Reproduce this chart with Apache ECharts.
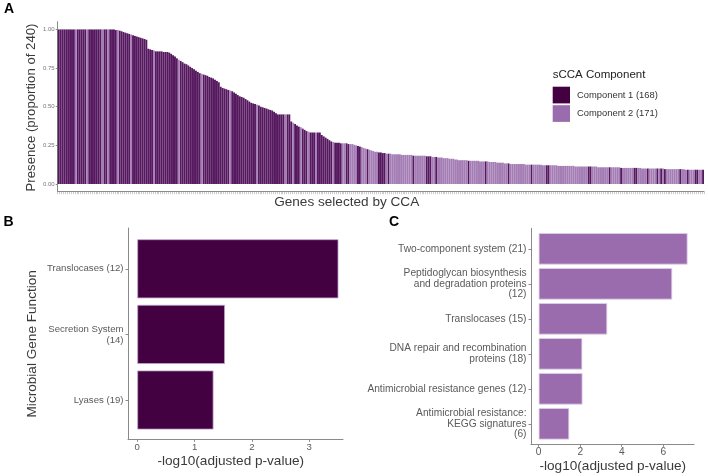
<!DOCTYPE html>
<html><head><meta charset="utf-8">
<script src="https://cdn.jsdelivr.net/npm/echarts@6/dist/echarts.min.js"></script>
<style>html,body{margin:0;padding:0;background:#fff}#c{width:708px;height:476px}</style>
</head><body><div id="c"></div>
<script>
// ---- Panel A: presence of each CCA-selected gene (proportion of 240), sorted ----
const presence = [
  1,1,1,1,1,1,1,1,1,1,
  1,1,1,1,1,1,1,1,1,1,
  1,1,1,1,1,1,1,1,1,1,
  0.996,0.996,0.992,0.988,0.983,
  0.979,0.975,0.971,0.967,0.963,
  0.958,0.954,0.950,0.946,0.942,0.938,0.933,
  0.875,0.871,0.867,0.863,0.858,0.858,0.858,0.858,0.854,0.854,0.854,0.850,
  0.842,0.833,0.825,0.813,0.804,0.796,
  0.788,0.779,0.775,0.767,0.758,0.750,0.742,0.733,
  0.725,0.717,0.713,0.708,0.704,0.700,0.692,0.688,0.683,
  0.675,0.667,0.658,0.629,0.621,
  0.617,0.613,0.608,0.604,0.600,0.592,
  0.583,0.575,0.567,0.563,0.558,
  0.550,0.542,0.533,0.525,0.521,
  0.517,0.513,0.508,0.500,0.496,0.492,
  0.488,0.483,0.479,0.475,0.467,0.458,
  0.450,0.450,0.450,0.450,0.450,0.450,0.450,
  0.404,0.396,0.388,0.379,0.371,0.367,
  0.358,0.350,0.342,0.338,
  0.333,0.333,0.333,0.333,0.333,0.333,
  0.317,0.308,0.300,0.292,0.283,0.275,0.271,
  0.267,0.267,0.267,0.263,0.263,0.263,0.263,0.258,0.258,0.258,0.254,
  0.250,0.246,0.242,0.238,0.233,0.229,0.225,0.221,0.217,0.213,
  0.208,0.208,0.204,0.204,0.200,0.200,0.196,0.196,0.196,
  0.192,0.192,0.192,0.192,0.192,0.188,0.188,0.188,0.188,0.188,0.188,
  0.183,0.183,0.183,0.183,0.183,0.183,0.183,
  0.179,0.179,0.179,0.175,0.175,0.175,0.171,0.171,0.171,
  0.167,0.167,0.167,0.163,0.163,0.163,0.158,0.158,
  0.154,0.154,0.154,0.154,0.154,0.150,0.150,0.150,0.150,0.150,0.150,
  0.146,0.146,0.146,0.146,0.146,0.142,0.142,0.142,0.142,
  0.138,0.138,0.138,0.138,0.133,0.133,0.133,
  0.129,0.129,0.129,0.129,0.129,0.129,0.129,0.129,
  0.125,0.125,0.125,0.125,0.125,0.125,0.125,0.125,0.125,
  0.121,0.121,0.121,0.121,0.121,0.121,0.121,0.121,
  0.117,0.117,0.117,0.117,0.117,0.117,0.117,0.117,0.117,
  0.113,0.113,0.113,0.113,0.113,0.113,0.113,0.113,0.113,0.113,0.113,0.113,
  0.108,0.108,0.108,0.108,0.108,0.108,0.108,0.108,0.108,0.108,0.108,0.108,
  0.104,0.104,0.104,0.104,0.104,0.104,0.104,0.104,0.104,0.104,0.104,
  0.100,0.100,0.100,0.100,0.100,0.100,0.100,0.100,0.100,0.100,0.100,0.100,
  0.096,0.096,0.096,0.096,0.096,0.096,0.096,0.096,0.096,0.096,0.096,
  0.092,0.092,0.092,0.092,0.092,0.092,0.092,0.092,0.092,0.092
];
// sCCA component of each gene (same order as presence)
const component = [
  1,1,1,1,1,1,1,1,1,2,1,1,1,1,1,2,1,1,1,1,
  1,1,1,2,1,1,2,1,1,1,1,2,1,1,1,1,1,1,2,1,
  1,1,1,1,1,1,1,1,1,1,2,1,1,1,1,1,1,1,1,1,
  1,1,1,2,1,1,1,1,1,1,1,1,1,1,1,2,1,1,1,1,
  1,1,1,1,1,1,1,1,1,1,2,1,1,1,1,1,1,1,1,1,
  1,1,1,1,2,1,1,1,1,1,1,1,1,1,1,1,1,1,1,2,
  1,1,1,2,1,1,1,2,1,1,1,2,1,1,1,2,1,1,1,1,
  1,1,1,1,2,1,1,1,1,2,2,1,1,2,2,2,2,1,1,2,
  2,2,1,2,2,2,2,2,1,1,1,1,2,1,2,2,2,2,2,2,
  2,2,2,2,2,2,1,2,2,2,2,2,2,1,1,1,2,2,1,2,
  2,2,2,2,2,2,2,2,2,2,2,2,2,2,2,1,2,2,2,2,
  2,2,2,2,1,2,2,2,2,2,2,2,2,2,2,2,1,2,2,2,
  2,2,2,2,2,2,2,2,1,2,2,2,2,2,2,2,1,1,2,2,
  2,2,2,2,2,2,2,2,2,2,2,2,2,2,2,2,2,2,1,1,
  2,2,2,2,2,2,2,2,2,1,2,2,2,2,2,1,2,2,2,2,
  2,2,1,1,2,2,2,2,2,1,2,2,2,2,1,2,1,2,1,2,
  2,2,2,2,2,2,1,2,2,2,1,2,2,2,1,1,2,2,1
];
const componentNames = ['Component 1 (168)', 'Component 2 (171)'];
const aYTicks = [0, 0.25, 0.5, 0.75, 1];

// ---- Panel B: component 1 enrichment ----
const bCategories = ['Translocases (12)', 'Secretion System\n(14)', 'Lyases (19)'];
const bValues = [3.51, 1.53, 1.33];
const bXTicks = [0, 1, 2, 3];

// ---- Panel C: component 2 enrichment ----
const cCategories = [
  'Two-component system (21)',
  'Peptidoglycan biosynthesis\nand degradation proteins\n(12)',
  'Translocases (15)',
  'DNA repair and recombination\nproteins (18)',
  'Antimicrobial resistance genes (12)',
  'Antimicrobial resistance:\nKEGG signatures\n(6)'
];
const cValues = [7.17, 6.43, 3.30, 2.10, 2.11, 1.47];
const cXTicks = [0, 2, 4, 6];

const DARK = '#440141', LIGHT = '#9a6cad';
const A_DARK = '#56185f', A_LIGHT = '#a47db5';
const AXIS = '#8a8a8a', LABEL = '#5a5a5a', TITLE = '#3a3a3a';
const FONT = '"Liberation Sans", Arial, sans-serif';

const geneIds = presence.map((_, i) => 'gene' + (i + 1));
const comp1 = presence.map((v, i) => component[i] === 1 ? v : '-');
const comp2 = presence.map((v, i) => component[i] === 2 ? v : '-');

function frameAxis(gridIndex) {
  return {
    type: 'value', gridIndex, min: 0, max: 1,
    axisLine: { show: true, onZero: false, lineStyle: { color: AXIS, width: 1 } },
    axisTick: { show: false }, axisLabel: { show: false }, splitLine: { show: false }
  };
}
function txt(text, x, y, size, opts) {
  return Object.assign({
    type: 'text', x, y,
    style: { text, fontSize: size, fontFamily: FONT, fill: TITLE, align: 'center', verticalAlign: 'middle' }
  }, opts || {});
}
function letter(text, x, y) {
  return { type: 'text', x, y,
    style: { text, fontSize: 14, fontWeight: 'bold', fontFamily: FONT, fill: '#000', align: 'center', verticalAlign: 'middle' } };
}

const chart = echarts.init(document.getElementById('c'), null, { renderer: 'canvas' });
chart.setOption({
  animation: false,
  backgroundColor: '#fff',
  textStyle: { fontFamily: FONT },
  grid: [
    { left: 57.7, top: 21.7, width: 646.3, height: 170 },     // A
    { left: 128, top: 236, width: 215, height: 196.8 },       // B data
    { left: 128, top: 228, width: 215, height: 211.3 },       // B frame
    { left: 531, top: 231.3, width: 163, height: 210 },       // C data
    { left: 531, top: 228.3, width: 163, height: 216 }        // C frame
  ],
  xAxis: [
    { type: 'category', gridIndex: 0, data: geneIds,
      axisLine: { show: true, onZero: false, lineStyle: { color: AXIS, width: 1 } },
      axisTick: { show: true, interval: 0, length: 2.5, lineStyle: { color: '#aaa', width: 0.6 } },
      axisLabel: { show: false }, splitLine: { show: false } },
    { type: 'value', gridIndex: 1, min: -0.162, max: 3.59, offset: 6.5,
      axisLine: { show: false },
      axisTick: { show: true, customValues: bXTicks, length: 2.5, lineStyle: { color: AXIS } },
      axisLabel: { show: true, customValues: bXTicks, fontSize: 9.6, color: LABEL, margin: 3 },
      splitLine: { show: false } },
    frameAxis(2),
    { type: 'value', gridIndex: 3, min: -0.37, max: 7.48, offset: 3,
      axisLine: { show: false },
      axisTick: { show: true, customValues: cXTicks, length: 2.5, lineStyle: { color: AXIS } },
      axisLabel: { show: true, customValues: cXTicks, fontSize: 10.2, color: LABEL, margin: 3 },
      splitLine: { show: false } },
    frameAxis(4)
  ],
  yAxis: [
    { type: 'value', gridIndex: 0, min: -0.05, max: 1.05,
      axisLine: { show: true, onZero: false, lineStyle: { color: AXIS, width: 1 } },
      axisTick: { show: true, customValues: aYTicks, length: 2, lineStyle: { color: AXIS } },
      axisLabel: { show: true, customValues: aYTicks, fontSize: 6, color: '#777', margin: 3,
        formatter: v => Number(v).toFixed(2) },
      splitLine: { show: false } },
    { type: 'category', gridIndex: 1, data: bCategories, inverse: true,
      axisLine: { show: false, onZero: false },
      axisTick: { show: true, alignWithLabel: true, length: 2.5, lineStyle: { color: AXIS } },
      axisLabel: { fontSize: 9.6, color: LABEL, margin: 4.5, lineHeight: 11, align: 'right' } },
    frameAxis(2),
    { type: 'category', gridIndex: 3, data: cCategories, inverse: true,
      axisLine: { show: false, onZero: false },
      axisTick: { show: true, alignWithLabel: true, length: 2.5, lineStyle: { color: AXIS } },
      axisLabel: { fontSize: 10.2, color: LABEL, margin: 4.5, lineHeight: 10.4, align: 'right' } },
    frameAxis(4)
  ],
  legend: {
    data: [
      { name: componentNames[0], itemStyle: { color: DARK } },
      { name: componentNames[1], itemStyle: { color: LIGHT } }
    ],
    orient: 'vertical', left: 552.7, top: 86.7, padding: 0,
    itemWidth: 17.3, itemHeight: 16.7, itemGap: 1.8, icon: 'rect',
    itemStyle: { borderWidth: 0 },
    textStyle: { fontSize: 9.4, color: '#333', padding: [0, 0, 0, 2] }
  },
  series: [
    { name: componentNames[0], type: 'bar', xAxisIndex: 0, yAxisIndex: 0, data: comp1,
      barGap: '-100%', barCategoryGap: '0%', itemStyle: { color: A_DARK } },
    { name: componentNames[1], type: 'bar', xAxisIndex: 0, yAxisIndex: 0, data: comp2,
      barGap: '-100%', barCategoryGap: '0%', itemStyle: { color: A_LIGHT } },
    { name: 'B', type: 'bar', xAxisIndex: 1, yAxisIndex: 1, data: bValues, barWidth: '90%',
      itemStyle: { color: DARK, borderColor: '#bfa3cc', borderWidth: 0.8 } },
    { name: 'C', type: 'bar', xAxisIndex: 3, yAxisIndex: 3, data: cValues, barWidth: '90%',
      itemStyle: { color: LIGHT, borderColor: '#e0d2e6', borderWidth: 0.8 } }
  ],
  graphic: [
    letter('A', 9, 9),
    letter('B', 8.5, 222),
    letter('C', 394, 222),
    txt('Presence (proportion of 240)', 31, 107.5, 13.2, { rotation: Math.PI / 2 }),
    txt('Genes selected by CCA', 346.7, 202, 13.6),
    txt('Microbial Gene Function', 32.5, 343.8, 13.6, { rotation: Math.PI / 2 }),
    txt('-log10(adjusted p-value)', 230.8, 461.7, 13.6),
    txt('-log10(adjusted p-value)', 612.8, 466.7, 13.6),
    { type: 'text', x: 552.7, y: 75,
      style: { text: 'sCCA Component', fontSize: 11.5, fontFamily: FONT, fill: '#222', align: 'left', verticalAlign: 'middle' } }
  ]
});
</script>
</body></html>
